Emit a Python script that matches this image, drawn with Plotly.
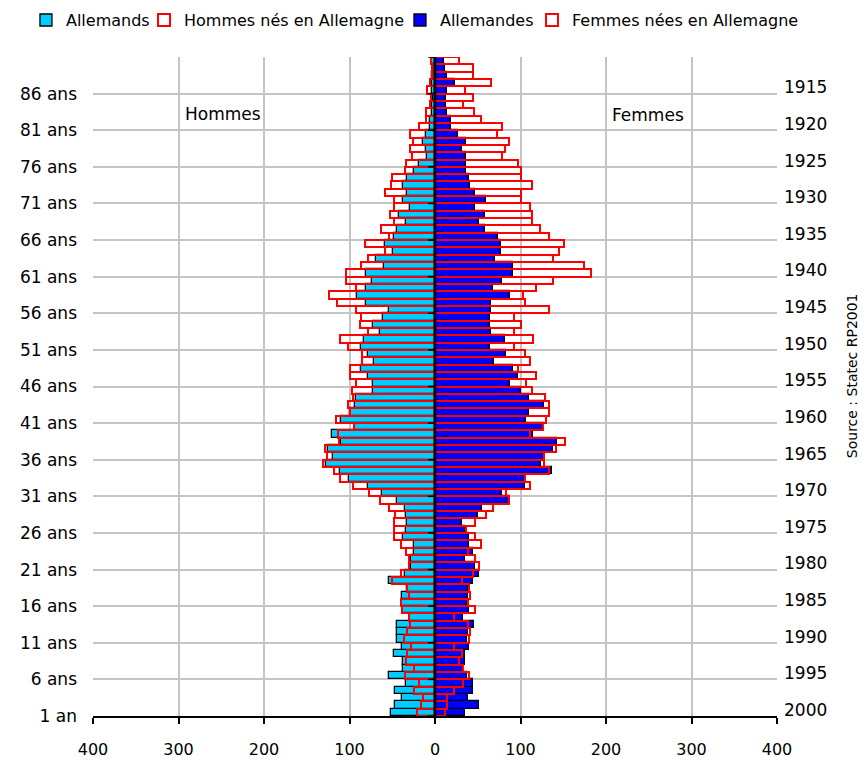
import plotly.graph_objects as go

# ---- data (index 0 = bottom bar, 89 = top bar) ----
ages = list(range(90))
age_tick_pos = list(range(0, 86, 5))
age_labels = ["1 an"] + [f"{a} ans" for a in range(6, 87, 5)]
years = list(range(2000, 1914, -5))
x_ticks = list(range(-400, 401, 100))

allemands = [52, 47, 39, 47, 34, 54, 37, 38, 48, 39,
             44, 44, 44, 29, 37, 39, 39, 33, 54, 35,
             28, 28, 25, 24, 37, 34, 33, 34, 35, 44,
             62, 78, 101, 111, 128, 119, 125, 110, 120, 93,
             110, 100, 93, 92, 73, 73, 78, 86, 71, 78,
             87, 83, 64, 72, 61, 54, 81, 91, 81, 74,
             81, 60, 69, 49, 58, 48, 44, 34, 42, 29,
             38, 33, 38, 33, 24, 19, 9, 10, 14, 11,
             6, 6, 4, 3, 2, 3, 4, 3, 2, 3]

hommes_nes = [21, 16, 14, 25, 19, 35, 25, 34, 33, 28,
              36, 33, 29, 31, 39, 40, 30, 33, 50, 40,
              30, 31, 34, 40, 48, 48, 48, 47, 54, 64,
              77, 96, 111, 118, 131, 126, 129, 112, 114, 95,
              116, 100, 102, 96, 97, 92, 99, 99, 85, 85,
              102, 111, 78, 88, 86, 92, 115, 124, 92, 104,
              104, 87, 78, 59, 82, 54, 63, 48, 53, 48,
              48, 59, 52, 50, 35, 34, 27, 29, 26, 29,
              19, 10, 10, 6, 5, 9, 6, 4, 4, 5]

allemandes = [35, 51, 39, 45, 45, 38, 34, 35, 35, 40,
              38, 39, 46, 33, 40, 37, 39, 39, 45, 51,
              47, 35, 45, 40, 40, 35, 31, 50, 55, 88,
              78, 105, 105, 137, 124, 127, 138, 143, 115, 127,
              106, 110, 128, 110, 100, 88, 97, 91, 69, 83,
              64, 82, 65, 64, 64, 65, 66, 88, 68, 78,
              91, 91, 70, 77, 77, 74, 59, 51, 59, 47,
              60, 47, 41, 40, 36, 36, 36, 31, 36, 27,
              19, 19, 14, 13, 13, 14, 23, 14, 12, 10]

femmes_nees = [12, 14, 14, 22, 33, 40, 33, 28, 32, 22,
               40, 41, 39, 22, 47, 39, 41, 40, 32, 45,
               51, 47, 39, 54, 47, 36, 47, 60, 68, 86,
               83, 111, 105, 133, 127, 128, 142, 152, 111, 126,
               130, 133, 133, 129, 113, 107, 118, 97, 111, 105,
               92, 115, 92, 100, 92, 133, 105, 103, 118, 138,
               183, 174, 138, 145, 151, 133, 123, 114, 114, 111,
               100, 100, 113, 100, 100, 97, 78, 82, 86, 72,
               78, 54, 46, 33, 45, 35, 65, 45, 45, 28]

FONT = "DejaVu Sans"
GRID = "#C4C4C4"
y_pos = [a + 0.5 for a in ages]

fig = go.Figure()
fig.add_trace(go.Bar(
    y=y_pos, x=[-v for v in allemands], orientation="h", width=1,
    name="Allemands", legend="legend",
    marker=dict(color="#00CCFF", line=dict(color="black", width=1.3)),
))
fig.add_trace(go.Bar(
    y=y_pos, x=[-v for v in hommes_nes], orientation="h", width=1,
    name="Hommes nés en Allemagne", legend="legend2",
    marker=dict(color="rgba(255,255,255,0)", line=dict(color="#FF0000", width=2)),
))
fig.add_trace(go.Bar(
    y=y_pos, x=allemandes, orientation="h", width=1,
    name="Allemandes", legend="legend3",
    marker=dict(color="#0000FF", line=dict(color="black", width=1.3)),
))
fig.add_trace(go.Bar(
    y=y_pos, x=femmes_nees, orientation="h", width=1,
    name="Femmes nées en Allemagne", legend="legend4",
    marker=dict(color="rgba(255,255,255,0)", line=dict(color="#FF0000", width=2)),
))

# central axis line and its small tick marks
shapes = [dict(type="line", xref="x", yref="y", x0=0, x1=0, y0=0, y1=90,
               line=dict(color="black", width=2.5), layer="above")]
for k in range(0, 91, 5):
    shapes.append(dict(type="line", xref="x", yref="y", x0=-8, x1=0, y0=k, y1=k,
                       line=dict(color="black", width=1.5), layer="above"))

annotations = [
    dict(text="Hommes", x=-248, y=82.2, xref="x", yref="y", showarrow=False,
         font=dict(family=FONT, size=17, color="black")),
    dict(text="Femmes", x=249, y=82.1, xref="x", yref="y", showarrow=False,
         font=dict(family=FONT, size=17, color="black")),
    dict(text="Source : Statec RP2001", x=1.11, y=0.516, xref="paper", yref="paper",
         textangle=-90, showarrow=False, xanchor="center", yanchor="middle",
         font=dict(family=FONT, size=14, color="black")),
]
for yr in years:
    annotations.append(dict(text=str(yr), x=1, xref="paper", y=(2001 - yr) - 0.15, yref="y",
                            xanchor="left", yanchor="middle", xshift=5, showarrow=False,
                            font=dict(family=FONT, size=17, color="black")))


def leg(xp):
    return dict(orientation="h", x=xp, xanchor="left", y=1.056, yanchor="middle",
                font=dict(family=FONT, size=16, color="black"),
                itemwidth=30, bgcolor="rgba(0,0,0,0)")


# the page places the figure 8 px from the top-left corner; size and margins
# are chosen so that the plot area lands on the reference's pixels
fig.update_layout(
    width=859, height=753,
    margin=dict(l=85, r=90, t=49, b=45, autoexpand=False),
    paper_bgcolor="white", plot_bgcolor="white",
    barmode="overlay", bargap=0,
    showlegend=True,
    legend=leg(-0.098), legend2=leg(0.0746), legend3=leg(0.4488), legend4=leg(0.6418),
    xaxis=dict(range=[-400, 400], tickvals=x_ticks, ticktext=[str(abs(v)) for v in x_ticks],
               ticks="outside", ticklen=6, tickwidth=1.5, tickcolor="black",
               showline=True, linecolor="black", linewidth=2,
               showgrid=True, gridcolor=GRID, gridwidth=1.5, zeroline=False,
               tickfont=dict(family=FONT, size=16, color="black"), ticklabelstandoff=12,
               fixedrange=True),
    yaxis=dict(range=[0, 90], tickvals=age_tick_pos + [90], ticktext=age_labels + [""],
               ticks="", showline=False, zeroline=False,
               showgrid=True, gridcolor=GRID, gridwidth=1.5,
               tickfont=dict(family=FONT, size=17, color="black"), ticklabelstandoff=15,
               fixedrange=True),
    shapes=shapes,
    annotations=annotations,
    font=dict(family=FONT, color="black"),
)

fig.write_html("out.html")
